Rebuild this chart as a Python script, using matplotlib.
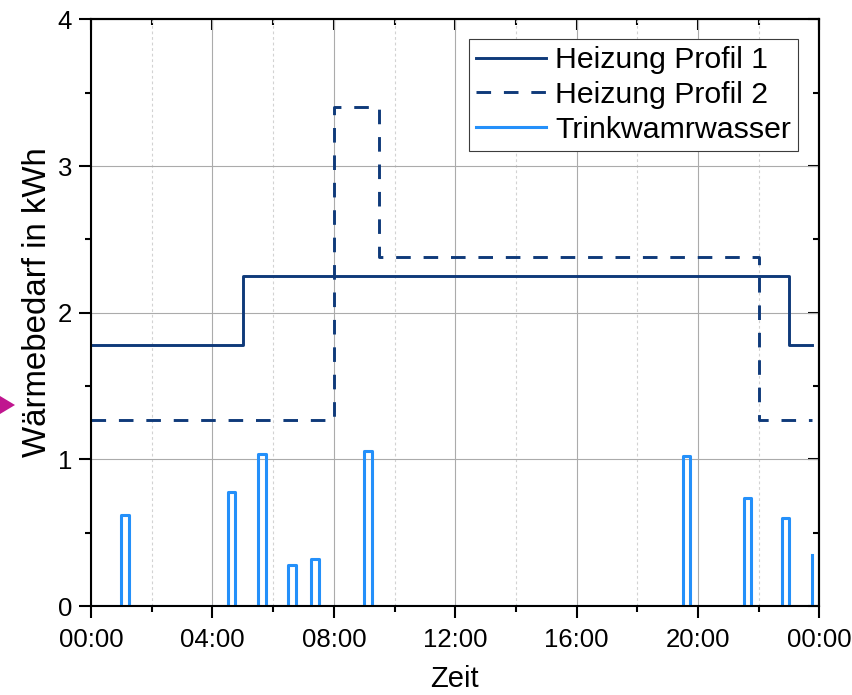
import numpy as np
import matplotlib
matplotlib.use('Agg')
import matplotlib.pyplot as plt
from matplotlib.ticker import MultipleLocator, FixedLocator, NullFormatter
from matplotlib.patches import Polygon

plt.rcParams['font.family'] = ['Liberation Sans', 'DejaVu Sans']

# Heating profiles: times of step changes (h) and demand (kWh)
profil1_zeit = [0.0, 5.0, 23.0, 23.75]
profil1_wert = [1.78, 2.25, 1.78, 1.78]
profil2_zeit = [0.0, 8.0, 9.5, 22.0, 23.75]
profil2_wert = [1.27, 3.40, 2.38, 1.27, 1.27]

# Domestic hot water draws: start of each 15-min interval (h) and demand (kWh)
ww_start = [1.0, 4.5, 5.5, 6.5, 7.25, 9.0, 19.5, 21.5, 22.75, 23.75]
ww_wert = [0.62, 0.78, 1.04, 0.28, 0.32, 1.06, 1.02, 0.74, 0.60, 0.35]
intervall = 0.25
tag_ende = 23.75

x_ticks = [0, 4, 8, 12, 16, 20, 24]
x_ticklabels = ['00:00', '04:00', '08:00', '12:00', '16:00', '20:00', '00:00']
y_ticks = [0, 1, 2, 3, 4]

# step series for the hot water draws (zero between draws)
ww_x, ww_y = [0.0], [0.0]
for s, v in zip(ww_start, ww_wert):
    ww_x.append(s)
    ww_y.append(v)
    e = s + intervall
    if e <= tag_ende:
        ww_x.append(e)
        ww_y.append(0.0)

navy = '#0F3A7A'
hellblau = '#2490FA'

fig = plt.figure(figsize=(8.53, 6.95), dpi=100)
ax = fig.add_axes([0.1067, 0.128, 0.854, 0.844])

l1, = ax.step(profil1_zeit, profil1_wert, where='post', color=navy, lw=2.1,
              label='Heizung Profil 1')
l2, = ax.step(profil2_zeit, profil2_wert, where='post', color=navy, lw=2.1,
              dashes=(5, 4.4), label='Heizung Profil 2')
l3, = ax.step(ww_x, ww_y, where='post', color=hellblau, lw=2.2,
              label='Trinkwamrwasser')

ax.set_xlim(0, 24)
ax.set_ylim(0, 4)
ax.xaxis.set_major_locator(FixedLocator(x_ticks))
ax.set_xticklabels(x_ticklabels)
ax.xaxis.set_minor_locator(MultipleLocator(2))
ax.yaxis.set_major_locator(FixedLocator(y_ticks))
ax.yaxis.set_minor_locator(MultipleLocator(0.5))

ax.set_axisbelow(True)
ax.grid(which='major', color='#ABABAB', lw=0.8)
ax.xaxis.grid(which='minor', color='#D2D2D2', lw=0.8, ls=(0, (2.5, 2.5)))

for sp in ax.spines.values():
    sp.set_linewidth(1.5)

ax.tick_params(which='major', direction='out', length=8.6, width=1.5,
               labelsize=18.5, colors='black')
ax.tick_params(which='minor', direction='out', length=4.3, width=1.5)
ax.tick_params(axis='x', which='major', pad=7.0)
ax.tick_params(axis='y', which='major', pad=5.0)

# mirrored axes with inward ticks on top and right
top = ax.secondary_xaxis('top')
top.xaxis.set_major_locator(FixedLocator(x_ticks))
top.xaxis.set_minor_locator(MultipleLocator(2))
top.xaxis.set_major_formatter(NullFormatter())
top.tick_params(which='major', direction='in', length=8.0, width=1.5)
top.tick_params(which='minor', direction='in', length=4.0, width=1.5)
top.spines['top'].set_linewidth(1.5)

right = ax.secondary_yaxis('right')
right.yaxis.set_major_locator(FixedLocator(y_ticks))
right.yaxis.set_minor_locator(MultipleLocator(0.5))
right.yaxis.set_major_formatter(NullFormatter())
right.tick_params(which='major', direction='in', length=8.0, width=1.5)
right.tick_params(which='minor', direction='in', length=4.0, width=1.5)
right.spines['right'].set_linewidth(1.5)

ax.set_xlabel('Zeit', fontsize=21)
ax.xaxis.set_label_coords(0.499, -0.100)
ax.set_ylabel('Wärmebedarf in kWh', fontsize=23.8)
ax.yaxis.set_label_coords(-0.052, 0.518)

leg = ax.legend(handles=[l1, l2, l3], loc='upper right',
                bbox_to_anchor=(0.971, 0.967), borderaxespad=0,
                fontsize=21.8, handlelength=2.3, handletextpad=0.3,
                labelspacing=0.22, borderpad=0.25, fancybox=False,
                framealpha=1, edgecolor='#3C3C3C')
leg.get_frame().set_linewidth(0.8)

# marker on the left margin
fig.add_artist(Polygon([[0.0, 1 - 396 / 695], [15 / 853, 1 - 405 / 695],
                        [0.0, 1 - 414 / 695]], closed=True,
                       transform=fig.transFigure, facecolor='#C0168F',
                       edgecolor='none'))

fig.savefig('out.png', dpi=100)
